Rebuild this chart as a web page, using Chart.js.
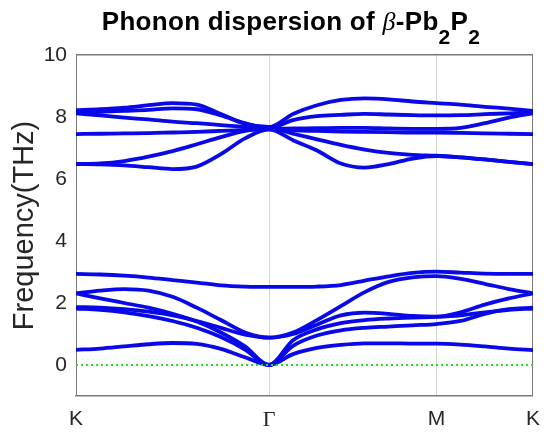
<!DOCTYPE html>
<html>
<head>
<meta charset="utf-8">
<script src="https://cdn.jsdelivr.net/npm/chart.js@4.4.1/dist/chart.umd.min.js"></script>
<style>
    body { margin: 0; background: #fff; }
    #wrap { position: relative; width: 551px; height: 436px; }
    #title {
        position: absolute; left: 0; top: 6px; width: 582px;
        text-align: center; font-family: 'Liberation Sans', Arial, sans-serif;
        font-weight: bold; font-size: 26px; color: #000; line-height: 30px;
        letter-spacing: 0.3px;
    }
    #title sub { font-size: 21px; vertical-align: -14px; line-height: 0; }
    #title i { font-family: 'Liberation Serif', serif; font-weight: normal; }
</style>
</head>
<body>
<div id="wrap">
    <canvas id="bandChart" width="551" height="436"></canvas>
    <div id="title">Phonon dispersion of <i>β</i>-Pb<sub>2</sub>P<sub>2</sub></div>
</div>
<script>
// ===================================
// Phonon dispersion plot, K - Γ - M - K path
// ===================================

// High symmetry points (path coordinate) and their labels
const symPoints = [0, 1.3333, 2.4880, 3.1547];
const symLabels = ['K', 'Γ', 'M', 'K'];
const yTicks = [0, 2, 4, 6, 8, 10];

// q-points along the path where the bands were read
const qPath = [
    0, 0.1667, 0.3333, 0.5, 0.6667, 0.8333, 1.0, 1.1667, 1.3333,
    1.4983, 1.6633, 1.8282, 1.9932, 2.1581, 2.3231, 2.4880,
    2.6547, 2.8214, 2.9880, 3.1547
];

// Frequencies (THz) of each branch at the q-points above
const band1 = [0.49, 0.53, 0.60, 0.67, 0.71, 0.68, 0.52, 0.25, 0.00, 0.35, 0.55, 0.65, 0.70, 0.70, 0.69, 0.69, 0.66, 0.60, 0.53, 0.48];
const band2 = [1.82, 1.78, 1.70, 1.58, 1.42, 1.20, 0.90, 0.50, 0.00, 0.62, 0.95, 1.12, 1.20, 1.24, 1.28, 1.32, 1.42, 1.65, 1.80, 1.85];
const band3 = [2.31, 2.15, 2.00, 1.85, 1.65, 1.40, 1.05, 0.60, 0.00, 0.80, 1.15, 1.35, 1.45, 1.50, 1.53, 1.55, 1.60, 1.70, 1.78, 1.82];
const band4 = [1.87, 1.85, 1.80, 1.72, 1.60, 1.42, 1.20, 0.98, 0.88, 1.00, 1.30, 1.60, 1.69, 1.65, 1.58, 1.56, 1.70, 1.95, 2.15, 2.31];
const band5 = [2.31, 2.40, 2.45, 2.40, 2.20, 1.85, 1.45, 1.05, 0.88, 1.05, 1.45, 1.90, 2.35, 2.68, 2.83, 2.87, 2.78, 2.62, 2.45, 2.31];
const band6 = [2.94, 2.92, 2.88, 2.82, 2.74, 2.66, 2.57, 2.53, 2.52, 2.52, 2.53, 2.58, 2.72, 2.86, 2.97, 3.01, 2.98, 2.95, 2.94, 2.94];
const band7 = [6.48, 6.47, 6.44, 6.38, 6.32, 6.40, 6.80, 7.31, 7.60, 7.25, 6.92, 6.50, 6.37, 6.48, 6.66, 6.74, 6.70, 6.63, 6.55, 6.48];
const band8 = [6.48, 6.50, 6.58, 6.72, 6.90, 7.12, 7.35, 7.55, 7.65, 7.46, 7.28, 7.10, 6.95, 6.84, 6.78, 6.75, 6.70, 6.63, 6.55, 6.48];
const band9 = [7.45, 7.46, 7.47, 7.48, 7.50, 7.52, 7.55, 7.58, 7.60, 7.57, 7.55, 7.53, 7.52, 7.51, 7.50, 7.50, 7.49, 7.47, 7.46, 7.45];
const band10 = [8.12, 8.05, 7.98, 7.92, 7.85, 7.80, 7.74, 7.68, 7.62, 7.63, 7.64, 7.65, 7.65, 7.63, 7.62, 7.62, 7.65, 7.80, 7.98, 8.12];
const band11 = [8.15, 8.17, 8.20, 8.23, 8.28, 8.25, 8.05, 7.80, 7.65, 7.90, 8.03, 8.07, 8.10, 8.08, 8.06, 8.05, 8.06, 8.09, 8.12, 8.15];
const band12 = [8.22, 8.25, 8.30, 8.38, 8.45, 8.40, 8.10, 7.78, 7.68, 8.10, 8.38, 8.55, 8.60, 8.57, 8.50, 8.45, 8.40, 8.33, 8.27, 8.20];

const bands = [band1, band2, band3, band4, band5, band6, band7, band8, band9, band10, band11, band12];

// Zero-frequency reference line
const zeroLine = [0, 0];

const axisColor = '#7a7a7a';
const textColor = '#262626';

function buildDatasets() {
    const sets = [];
    sets.push({
        data: [
            { x: symPoints[0], y: zeroLine[0] },
            { x: symPoints[symPoints.length - 1], y: zeroLine[1] }
        ],
        borderColor: '#22e022',
        borderWidth: 2,
        borderDash: [2, 3],
        pointRadius: 0,
        order: 0
    });
    bands.forEach(function(band) {
        sets.push({
            data: band.map(function(f, i) { return { x: qPath[i], y: f }; }),
            borderColor: '#0808e8',
            borderWidth: 3.8,
            pointRadius: 0,
            cubicInterpolationMode: 'monotone',
            order: 1
        });
    });
    return sets;
}

const ctx = document.getElementById('bandChart');

new Chart(ctx, {
    type: 'line',
    data: { datasets: buildDatasets() },
    options: {
        responsive: false,
        animation: false,
        layout: { padding: { top: 55, right: 13, left: 0, bottom: 0 } },
        plugins: {
            legend: { display: false },
            tooltip: { enabled: false }
        },
        scales: {
            x: {
                type: 'linear',
                min: symPoints[0],
                max: symPoints[symPoints.length - 1],
                afterFit: function(scale) { scale.height = 40; },
                afterBuildTicks: function(scale) {
                    scale.ticks = symPoints.map(function(v) { return { value: v }; });
                },
                border: { display: true, color: axisColor, width: 1.5 },
                grid: {
                    drawTicks: false,
                    lineWidth: 1,
                    color: function(c) {
                        const i = c.index;
                        if (i === 0 || i === symPoints.length - 1) return axisColor;
                        return '#d4d4d4';
                    }
                },
                ticks: {
                    padding: 11,
                    color: textColor,
                    maxRotation: 0,
                    autoSkip: false,
                    font: function(c) {
                        if (c.index === 1) return { family: "'Liberation Serif', serif", size: 22 };
                        return { family: "'Liberation Sans', Arial, sans-serif", size: 21 };
                    },
                    callback: function(value, index) { return symLabels[index]; }
                }
            },
            y: {
                min: -1,
                max: 10,
                afterFit: function(scale) { scale.width = 76; },
                afterBuildTicks: function(scale) {
                    scale.ticks = yTicks.map(function(v) { return { value: v }; });
                },
                border: { display: false },
                grid: {
                    drawTicks: false,
                    lineWidth: 1.5,
                    color: function(c) {
                        return c.tick && c.tick.value === 10 ? axisColor : 'rgba(0,0,0,0)';
                    }
                },
                ticks: {
                    padding: 9,
                    color: textColor,
                    font: { family: "'Liberation Sans', Arial, sans-serif", size: 21 }
                },
                title: {
                    display: true,
                    text: 'Frequency(THz)',
                    color: textColor,
                    font: { family: "'Liberation Sans', Arial, sans-serif", size: 29 },
                    padding: { top: 8, bottom: 0 }
                }
            }
        }
    }
});
</script>
</body>
</html>
